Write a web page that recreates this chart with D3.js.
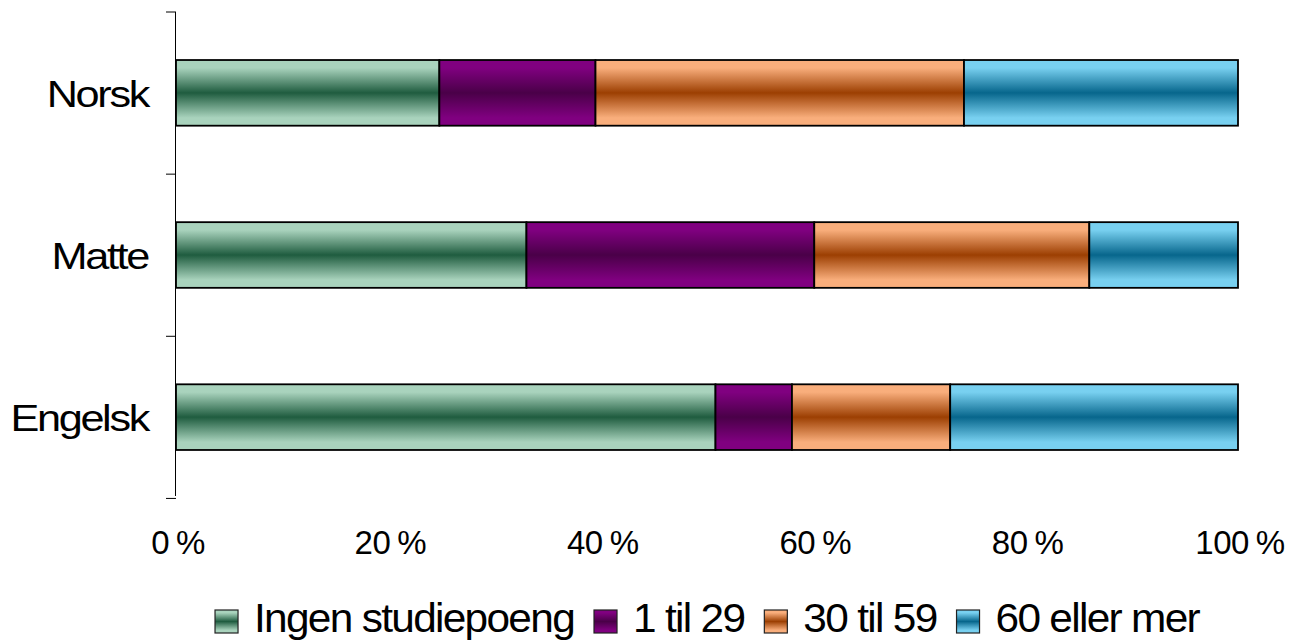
<!DOCTYPE html>
<html>
<head>
<meta charset="utf-8">
<script src="https://cdn.jsdelivr.net/npm/d3@7"></script>
<style>
  body { margin: 0; background: #fff; }
  text { font-family: "Liberation Sans", Arial, sans-serif; fill: #000; }
</style>
</head>
<body>
<div id="chart"></div>
<script>
// 数据
const categories = ['Norsk', 'Matte', 'Engelsk'];
const seriesNames = ['Ingen studiepoeng', '1 til 29', '30 til 59', '60 eller mer'];
const ingen = [24.8, 33.0, 50.8];
const til29 = [14.7, 27.1, 7.2];
const til59 = [34.7, 25.9, 14.9];
const over60 = [25.8, 14.0, 27.1];
const xTicks = [0, 20, 40, 60, 80, 100];

// 颜色：边缘浅色，中间深色
const lightColors = ['#a9d3bd', '#800080', '#f9ae7c', '#78d0f0'];
const darkColors = ['#1f5c3f', '#4a0048', '#9c3f02', '#07668c'];

const W = 1295, H = 642;
const margin = {left: 176, right: 57, top: 12, bottom: 146};

const svg = d3.select('#chart').append('svg')
    .attr('width', W).attr('height', H);

// 渐变
const defs = svg.append('defs');
seriesNames.forEach((s, i) => {
    const g = defs.append('linearGradient')
        .attr('id', 'grad' + i)
        .attr('x1', 0).attr('y1', 0).attr('x2', 0).attr('y2', 1);
    [[0, lightColors[i]], [0.12, lightColors[i]], [0.5, darkColors[i]],
     [0.88, lightColors[i]], [1, lightColors[i]]].forEach(([o, c]) => {
        g.append('stop').attr('offset', o).attr('stop-color', c);
    });
});

const x = d3.scaleLinear()
    .domain([0, 100])
    .range([margin.left, W - margin.right]);

const y = d3.scaleBand()
    .domain(categories)
    .range([margin.top, H - margin.bottom])
    .paddingInner(0.595)
    .paddingOuter(0.29);

// 堆叠数据
const rows = categories.map((c, i) => ({
    cat: c,
    0: ingen[i], 1: til29[i], 2: til59[i], 3: over60[i]
}));
const stack = d3.stack().keys([0, 1, 2, 3])(rows);

// 柱子
stack.forEach((layer, k) => {
    svg.append('g').selectAll('rect')
        .data(layer)
        .enter()
        .append('rect')
        .attr('x', d => x(d[0]))
        .attr('y', d => y(d.data.cat) + 1)
        .attr('width', d => x(d[1]) - x(d[0]))
        .attr('height', y.bandwidth())
        .attr('fill', `url(#grad${k})`)
        .attr('stroke', '#000')
        .attr('stroke-width', 1.8);
});

// Y轴线和刻度
const yAxis = svg.append('g');
const y0 = margin.top, y1 = H - margin.bottom;
yAxis.append('line')
    .attr('x1', margin.left - 0.5).attr('x2', margin.left - 0.5)
    .attr('y1', y0).attr('y2', y1)
    .attr('stroke', '#000').attr('stroke-width', 1);
d3.range(categories.length + 1).forEach(i => {
    const ty = y0 + i * y.step();
    yAxis.append('line')
        .attr('x1', margin.left - 10).attr('x2', margin.left)
        .attr('y1', ty).attr('y2', ty)
        .attr('stroke', '#000').attr('stroke-width', 1);
});

// 类别标签（字形稍宽，字距紧）
svg.append('g').selectAll('text')
    .data(categories)
    .enter()
    .append('text')
    .attr('transform', d => `translate(148,${y(d) + y.bandwidth() / 2 + 15}) scale(1.17,1)`)
    .attr('text-anchor', 'end')
    .style('font-size', '37px')
    .style('letter-spacing', '-2px')
    .text(d => d);

// X轴刻度标签
const xLabels = svg.append('g').selectAll('text')
    .data(xTicks)
    .enter()
    .append('text')
    .attr('x', d => x(d) + 2)
    .attr('y', 554)
    .attr('text-anchor', 'middle')
    .style('font-size', '33px')
    .style('letter-spacing', '-0.5px');
xLabels.append('tspan').text(d => d);
xLabels.append('tspan').attr('dx', 7).text('%');

// 图例
const legend = svg.append('g');
let lx = 0;
seriesNames.forEach((s, i) => {
    const item = legend.append('g').attr('transform', `translate(${lx},0)`);
    item.append('rect')
        .attr('x', 0).attr('y', 610)
        .attr('width', 23).attr('height', 23)
        .attr('fill', `url(#grad${i})`)
        .attr('stroke', '#222').attr('stroke-width', 1.2);
    const t = item.append('text')
        .attr('x', 0).attr('y', 0)
        .attr('transform', 'translate(39,632) scale(1.06,1)')
        .style('font-size', '40px')
        .style('letter-spacing', '-1.6px')
        .text(s);
    lx += 39 + t.node().getComputedTextLength() * 1.06 + 20;
});
const legendW = lx - 20;
legend.attr('transform', `translate(${(margin.left + W - margin.right) / 2 - legendW / 2},0)`);
</script>
</body>
</html>
